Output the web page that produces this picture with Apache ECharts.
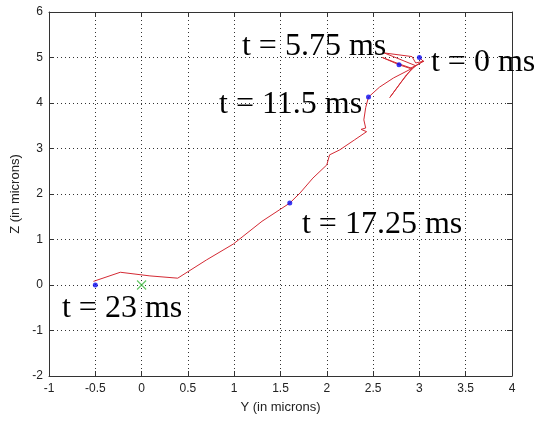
<!DOCTYPE html>
<html>
<head>
<meta charset="utf-8">
<script src="https://cdn.jsdelivr.net/npm/echarts@6/dist/echarts.min.js"></script>
<style>
  html, body { margin: 0; padding: 0; background: #fff; }
  #chart { width: 542px; height: 424px; }
</style>
</head>
<body>
<div id="chart"></div>
<script>
// trajectory, in time order (t = 0 ... 23 ms)
var trackY = [3.00, 3.04, 2.92, 2.80, 2.68, 2.86, 2.96, 2.62, 2.92, 2.96, 3.05, 2.90, 2.78, 2.60, 2.78, 2.92, 2.72, 2.57, 2.45, 2.42, 2.40, 2.42, 2.37, 2.43, 2.30, 2.14, 2.03, 2.00, 1.85, 1.71, 1.60, 1.30, 0.99, 0.70, 0.39, 0.09, -0.23, -0.52]
var trackZ = [5.00, 4.92, 4.76, 4.45, 4.12, 4.62, 4.82, 5.10, 5.02, 4.88, 4.92, 4.76, 4.84, 5.00, 4.86, 4.76, 4.55, 4.35, 4.13, 3.90, 3.63, 3.45, 3.42, 3.37, 3.19, 2.97, 2.86, 2.64, 2.35, 2.02, 1.80, 1.40, 0.90, 0.55, 0.15, 0.20, 0.28, 0.08]

// time stamps (blue dots)
var stampY = [3.00, 2.78, 2.45, 1.60, -0.50]
var stampZ = [5.00, 4.84, 4.13, 1.80, 0.00]

// origin (green x)
var originY = [0]
var originZ = [0]

// annotation text and anchor (left edge, middle)
var noteText = ['t = 0 ms', 't = 5.75 ms', 't = 11.5 ms', 't = 17.25 ms', 't = 23 ms']
var noteY = [3.125, 1.084, 0.836, 1.732, -0.86]
var noteZ = [4.89, 5.24, 3.96, 1.33, -0.52]

function pairs(a, b) {
  var out = []
  for (var i = 0; i < a.length; i++) out.push([a[i], b[i]])
  return out
}

var gridColor = '#333'
var axisColor = '#333'
var tickFont = { color: '#222', fontSize: 12, fontFamily: 'Liberation Sans, Arial, sans-serif' }

var chart = echarts.init(document.getElementById('chart'))

var option = {
  backgroundColor: '#fff',
  animation: false,
  grid: { left: 49, right: 30, top: 12, bottom: 48 },
  xAxis: [
    {
      type: 'value',
      min: -1,
      max: 4,
      interval: 0.5,
      name: 'Y (in microns)',
      nameLocation: 'middle',
      nameGap: 25,
      nameTextStyle: { color: '#222', fontSize: 13, fontFamily: 'Liberation Sans, Arial, sans-serif' },
      axisLine: { show: true, onZero: false, lineStyle: { color: axisColor, width: 1 } },
      axisTick: { show: true, inside: true, length: 5, lineStyle: { color: axisColor } },
      axisLabel: Object.assign({ margin: 7 }, tickFont),
      splitLine: { show: true, lineStyle: { color: gridColor, type: [1, 3], width: 1 } }
    },
    {
      type: 'value',
      position: 'top',
      min: -1,
      max: 4,
      interval: 0.5,
      axisLine: { show: true, onZero: false, lineStyle: { color: axisColor, width: 1 } },
      axisTick: { show: true, inside: true, length: 5, lineStyle: { color: axisColor } },
      axisLabel: { show: false },
      splitLine: { show: false }
    }
  ],
  yAxis: [
    {
      type: 'value',
      min: -2,
      max: 6,
      interval: 1,
      name: 'Z (in microns)',
      nameLocation: 'middle',
      nameGap: 26,
      nameTextStyle: { color: '#222', fontSize: 13, fontFamily: 'Liberation Sans, Arial, sans-serif' },
      axisLine: { show: true, onZero: false, lineStyle: { color: axisColor, width: 1 } },
      axisTick: { show: true, inside: true, length: 5, lineStyle: { color: axisColor } },
      axisLabel: Object.assign({ margin: 6 }, tickFont),
      splitLine: { show: true, lineStyle: { color: gridColor, type: [1, 3], width: 1 } }
    },
    {
      type: 'value',
      position: 'right',
      min: -2,
      max: 6,
      interval: 1,
      axisLine: { show: true, onZero: false, lineStyle: { color: axisColor, width: 1 } },
      axisTick: { show: true, inside: true, length: 5, lineStyle: { color: axisColor } },
      axisLabel: { show: false },
      splitLine: { show: false }
    }
  ],
  series: [
    {
      name: 'track',
      type: 'line',
      data: pairs(trackY, trackZ),
      showSymbol: false,
      symbol: 'none',
      lineStyle: { color: '#d42a34', width: 1 },
      z: 2
    },
    {
      name: 'stamps',
      type: 'scatter',
      data: pairs(stampY, stampZ),
      symbol: 'circle',
      symbolSize: 5,
      itemStyle: { color: '#0a0af0' },
      z: 3
    },
    {
      name: 'origin',
      type: 'scatter',
      data: pairs(originY, originZ),
      symbol: 'path://M0,0L10,10M10,0L0,10',
      symbolSize: 9,
      itemStyle: { color: 'none', borderColor: '#44bb44', borderWidth: 1.3 },
      z: 3
    },
    {
      name: 'notes',
      type: 'scatter',
      data: pairs(noteY, noteZ),
      symbolSize: 0,
      silent: true,
      label: {
        show: true,
        position: 'right',
        distance: 0,
        align: 'left',
        verticalAlign: 'middle',
        color: '#000',
        opacity: 1,
        textBorderWidth: 0,
        fontSize: 32,
        fontFamily: 'Liberation Serif, Times New Roman, serif',
        formatter: function (p) { return noteText[p.dataIndex] }
      },
      z: 4
    }
  ]
}

chart.setOption(option)
</script>
</body>
</html>
